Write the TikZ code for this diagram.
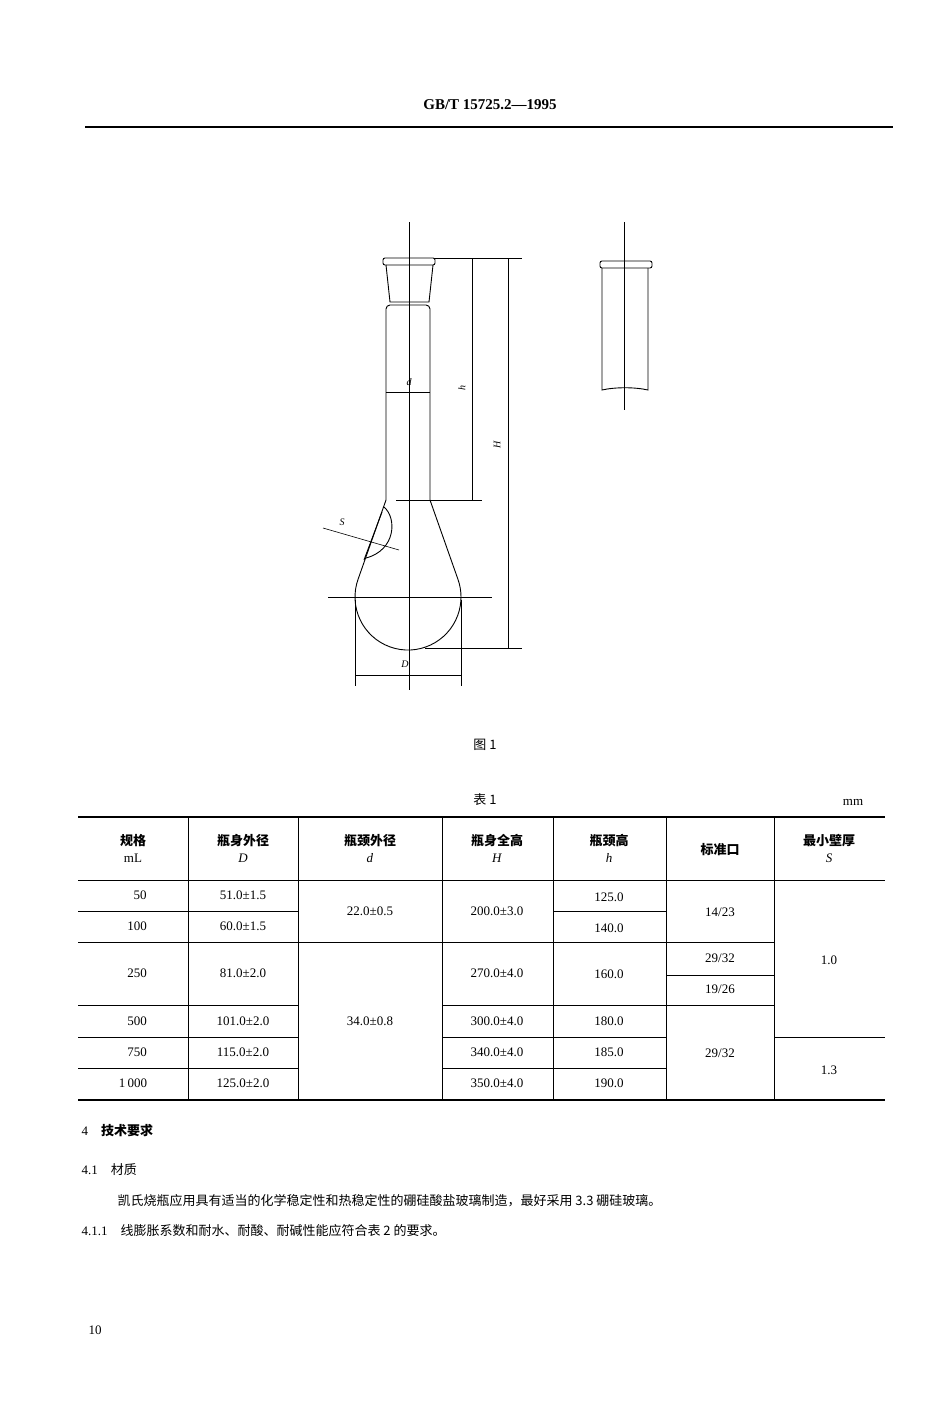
\documentclass[tikz,border=0pt]{standalone}
\usepackage{fontspec}
\setmainfont{Liberation Serif}
\newfontfamily\cjk{Noto Sans CJK SC}
\begin{document}
\begin{tikzpicture}[x=1pt,y=-1pt,
  tx/.style={font=\fontsize{13}{15}\selectfont},
  ln/.style={line width=0.9pt},
  thin/.style={line width=0.6pt}]
\useasboundingbox[fill=white] (0,0) rectangle (950,1401);
% header
\node[font=\fontsize{15}{17}\selectfont\bfseries] (hd) at (490,105) {GB/T 15725.2—1995};
\draw[line width=1.5pt] (85,127) -- (893,127);
% flask axis
\draw[thin] (409,222) -- (409,690);
% lip
\draw[ln,rounded corners=2pt] (383,258) rectangle (435,265);
\draw[ln] (386,265) -- (390,302) -- (429,302) -- (433,265);
% neck
\draw[ln,rounded corners=4pt] (386,500) -- (386,305) -- (430,305) -- (430,500);
\draw[ln] (386,392) -- (430,392);
\node[font=\itshape\fontsize{10}{12}\selectfont] (dl) at (409,382) {d};
% bulb
\draw[ln] (386,500) -- (358.2,578.9) arc[start angle=200,end angle=-20,radius=53] -- (430,500);
\draw[thin] (328,597) -- (492,597);
\draw[thin] (396,500) -- (482,500);
% S
\draw[ln] (384,507) .. controls (397,518) and (396,550) .. (366,558);
\draw[ln] (382,512) -- (364,560);
\draw[thin] (323,528) -- (399,550);
\node[font=\itshape\fontsize{10}{12}\selectfont] (sl) at (342,522) {S};
% h
\draw[thin] (435,258) -- (522,258);
\draw[thin] (472,258) -- (472,500);
\node[font=\itshape\fontsize{10}{12}\selectfont,rotate=90] (hl) at (462,388) {h};
% H
\draw[thin] (508,258) -- (508,648);
\draw[thin] (425,648) -- (522,648);
\node[font=\itshape\fontsize{10}{12}\selectfont,rotate=90] (Hl) at (497,445) {H};
% D
\draw[thin] (355,600) -- (355,686);
\draw[thin] (461,600) -- (461,686);
\draw[thin] (355,675) -- (461,675);
\node[font=\itshape\fontsize{10}{12}\selectfont] (Dl) at (405,664) {D};
% stopper
\draw[thin] (624,222) -- (624,410);
\draw[ln,rounded corners=2pt] (600,261) rectangle (652,268);
\draw[ln] (602,268) -- (602,390) .. controls (615,387) and (635,387) .. (648,390) -- (648,268);
% captions
\node[tx] (f1) at (485,745) {\cjk 图 1};
\node[tx] (t1) at (485,800) {\cjk 表 1};
\node[tx] (mm) at (853,802) {mm};
% table
\draw[line width=1.4pt] (78,817) -- (885,817);
\draw[line width=1.4pt] (78,1100) -- (885,1100);
\draw[ln] (78,880) -- (885,880);
\foreach \x in {188,298,442,553,666,774} \draw[ln] (\x,817) -- (\x,1100);
\draw[ln] (78,911) -- (298,911) (553,911) -- (666,911);
\draw[ln] (78,942) -- (774,942);
\draw[ln] (666,975) -- (774,975);
\draw[ln] (78,1005) -- (298,1005) (442,1005) -- (774,1005);
\draw[ln] (78,1037) -- (298,1037) (442,1037) -- (666,1037) (774,1037) -- (885,1037);
\draw[ln] (78,1068) -- (298,1068) (442,1068) -- (666,1068);
\begin{scope}[every node/.style={tx,align=center}]
\node (h1) at (133,848) {{\cjk\bfseries 规格}\\[2pt]mL};
\node (h2) at (243,848) {{\cjk\bfseries 瓶身外径}\\[2pt]\textit{D}};
\node (h3) at (370,848) {{\cjk\bfseries 瓶颈外径}\\[2pt]\textit{d}};
\node (h4) at (497,848) {{\cjk\bfseries 瓶身全高}\\[2pt]\textit{H}};
\node (h5) at (609,848) {{\cjk\bfseries 瓶颈高}\\[2pt]\textit{h}};
\node (h6) at (720,850) {\cjk\bfseries 标准口};
\node (h7) at (829,848) {{\cjk\bfseries 最小壁厚}\\[2pt]\textit{S}};
\node (a1) at (140,895) {50};
\node (a2) at (137,926) {100};
\node (a3) at (137,973) {250};
\node (a4) at (137,1021) {500};
\node (a5) at (137,1052) {750};
\node (a6) at (133,1083) {1\,000};
\node (b1) at (243,895) {51.0±1.5};
\node (b2) at (243,926) {60.0±1.5};
\node (b3) at (243,973) {81.0±2.0};
\node (b4) at (243,1021) {101.0±2.0};
\node (b5) at (243,1052) {115.0±2.0};
\node (b6) at (243,1083) {125.0±2.0};
\node (c1) at (370,911) {22.0±0.5};
\node (c2) at (370,1021) {34.0±0.8};
\node (d1) at (497,911) {200.0±3.0};
\node (d2) at (497,973) {270.0±4.0};
\node (d3) at (497,1021) {300.0±4.0};
\node (d4) at (497,1052) {340.0±4.0};
\node (d5) at (497,1083) {350.0±4.0};
\node (e1) at (609,897) {125.0};
\node (e2) at (609,928) {140.0};
\node (e3) at (609,974) {160.0};
\node (e4) at (609,1021) {180.0};
\node (e5) at (609,1052) {185.0};
\node (e6) at (609,1083) {190.0};
\node (f1c) at (720,912) {14/23};
\node (f2) at (720,958) {29/32};
\node (f3) at (720,989) {19/26};
\node (f4) at (720,1053) {29/32};
\node (g1) at (829,960) {1.0};
\node (g2) at (829,1070) {1.3};
\end{scope}
% text
\begin{scope}[every node/.style={tx,anchor=west}]
\node (s4) at (78,1131) {4\quad{\cjk\bfseries 技术要求}};
\node (s41) at (78,1170) {4.1\quad{\cjk 材质}};
\node (p1) at (114,1201) {\cjk 凯氏烧瓶应用具有适当的化学稳定性和热稳定性的硼硅酸盐玻璃制造，最好采用 3.3 硼硅玻璃。};
\node (s411) at (78,1231) {4.1.1\quad{\cjk 线膨胀系数和耐水、耐酸、耐碱性能应符合表 2 的要求。}};
\node (pg) at (85,1330) {10};
\end{scope}
\end{tikzpicture}
\end{document}
